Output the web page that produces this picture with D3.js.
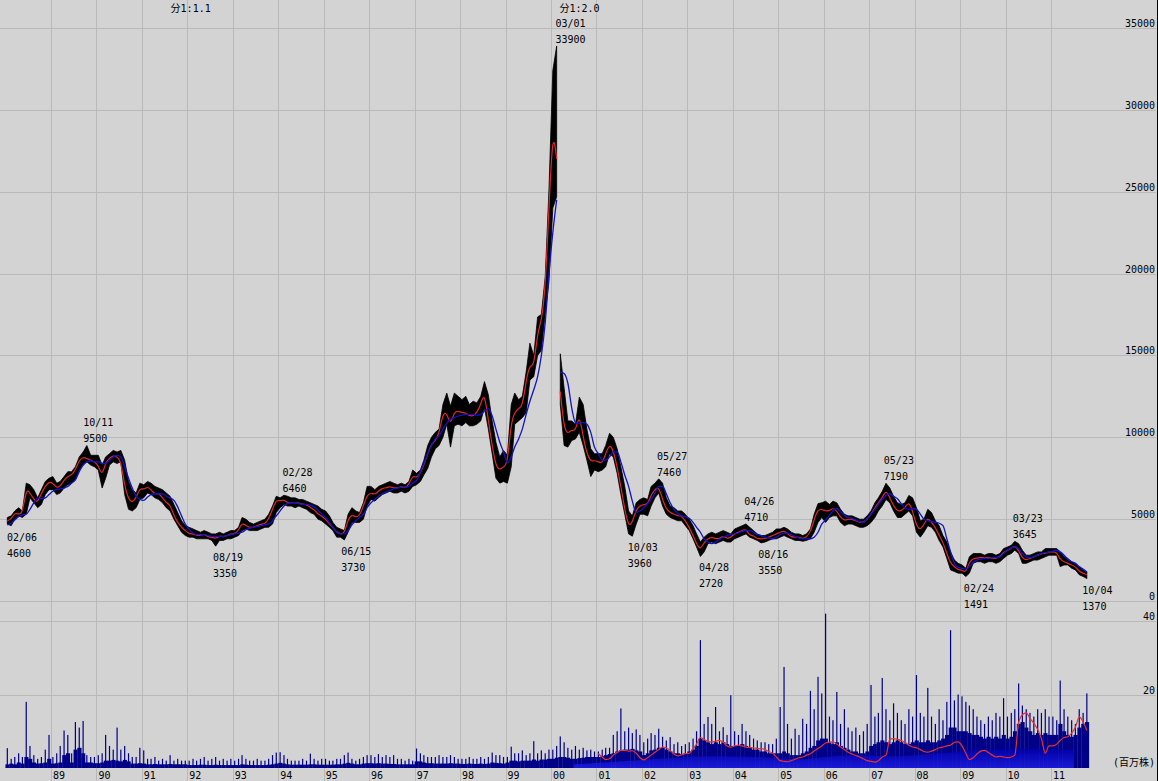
<!DOCTYPE html>
<html>
<head>
<meta charset="utf-8">
<script src="https://cdn.jsdelivr.net/npm/d3@7"></script>
<style>
html, body { margin: 0; padding: 0; background: #d3d3d3; }
svg { display: block; }
</style>
</head>
<body>
<svg id="chart"></svg>
<script>
// monthly data, first month = Jan 1988
const startYear = 1988;

const priceHigh = [
  5100,5200,5500,5700,5500,7200,7100,6800,6300,6800,7300,7500,          // 88
  7600,7200,7300,7600,7900,7900,8200,8800,9100,9500,8900,8900,          // 89
  8900,8300,8800,9000,9200,9100,9200,8600,7300,6800,6600,7200,          // 90
  7100,7300,7200,7000,6900,6800,6600,6400,5900,5400,4900,4600,          // 91
  4500,4400,4300,4200,4300,4200,4100,4100,4200,4100,4200,4300,          // 92
  4300,4500,5100,5000,4800,4700,4800,4900,5000,5300,5800,6400,          // 93
  6300,6460,6400,6300,6300,6200,6200,6100,6000,5900,5800,5600,          // 94
  5500,5200,4800,4500,4400,4300,5300,5700,5500,5400,6000,7000,          // 95
  7000,6800,7000,7100,7200,7300,7200,7100,7200,7100,7300,8000,          // 96
  7800,8000,8600,9500,10000,10300,10500,12000,12700,11900,12700,12500,  // 97
  12300,12500,12000,12200,12100,12500,13400,12600,11000,9700,8800,9200, // 98
  8900,12000,12700,12300,12500,14000,15750,15000,17350,17500,19800,25100, // 99
  32400,33900,15100,13000,11000,11000,10800,12450,12000,10500,9300,9000,  // 00
  9000,9000,9500,10250,10000,9300,8200,7000,5500,5200,6000,6200,        // 01
  6300,6200,7000,7200,7460,7200,6300,5800,5700,5500,5500,5300,          // 02
  5000,4600,4100,3600,3900,4100,4200,4100,4200,4300,4200,4100,          // 03
  4400,4500,4600,4710,4500,4300,4100,4000,4000,4100,4200,4400,          // 04
  4400,4500,4400,4200,4100,4100,4000,4100,4400,5300,5950,6000,          // 05
  6100,5900,6100,6000,5600,5300,5200,5200,5100,5000,5000,5200,          // 06
  5500,6000,6300,6700,7190,6900,6400,6000,5900,6000,6450,6300,          // 07
  5700,4900,5000,5600,5400,4900,4600,4000,3600,3000,2500,2300,          // 08
  2200,2000,2700,2900,2900,2900,2800,2900,2900,2800,2900,3200,          // 09
  3300,3400,3645,3500,3100,2800,2800,2900,3000,3000,3200,3200,          // 10
  3200,3200,3000,2700,2600,2400,2300,2100,1900,1800                     // 11
];

const priceLow = [
  4700,4600,5000,5200,5100,5300,6300,6000,5700,5900,6500,6800,
  6800,6500,6600,6900,7100,7200,7400,8000,8300,8500,8300,8200,
  8000,6900,7500,8300,8500,8400,8500,6500,5600,5500,5700,6200,
  6300,6600,6500,6300,6200,6000,5700,5500,5000,4600,4200,4000,
  3900,3900,3800,3800,3800,3800,3700,3350,3700,3700,3800,3800,
  3900,4000,4300,4400,4300,4300,4300,4400,4500,4500,4700,5400,
  5700,5900,5800,5800,5700,5800,5700,5600,5400,5300,5000,4900,
  4700,4500,4300,3900,3900,3730,4200,4800,4800,4800,5000,5800,
  6200,6100,6300,6500,6600,6700,6600,6600,6700,6600,6700,7000,
  7100,7300,7700,8100,8800,9300,9500,10000,10800,9400,10700,10800,
  10700,10900,10700,10700,10800,11000,11800,10500,9000,7500,7200,7300,
  7200,8200,10800,11000,11200,11500,13500,13700,15000,15300,17500,19500,
  24000,24700,12000,9500,9400,9800,9900,10300,9500,8600,7600,8000,
  7900,8000,8200,9000,8800,7800,6500,5300,4100,3960,4700,5300,
  5300,5200,5800,6300,6600,5800,5300,5100,5000,4900,4900,4600,
  4300,3800,3300,2720,3000,3500,3600,3500,3600,3700,3600,3600,
  3800,3900,4000,4100,3900,3800,3700,3550,3600,3700,3800,3800,
  3900,4000,3900,3800,3700,3700,3650,3700,3800,4200,4800,5100,
  4800,5100,5200,5200,4800,4600,4700,4700,4600,4500,4500,4600,
  4800,5100,5500,5800,6200,6000,5500,5100,5100,5300,5500,5200,
  4200,3900,4200,4600,4500,4200,3700,3300,2600,1900,1800,1700,
  1700,1491,1700,2300,2400,2400,2300,2400,2400,2300,2400,2600,
  2800,2900,3100,2900,2300,2300,2400,2500,2500,2600,2700,2800,
  2800,2800,2100,2200,2200,2000,1900,1600,1500,1370
];

const priceClose = [
  4900,5000,5400,5300,5300,6900,6600,6200,6000,6600,7000,7300,
  7200,6900,7000,7400,7600,7700,8000,8600,8800,8700,8600,8500,
  8300,7600,8500,8700,8900,8800,8600,7000,6200,6000,6300,6900,
  6800,7000,6800,6500,6600,6300,6000,5900,5200,4800,4500,4300,
  4100,4100,4000,4000,4100,3900,3900,3800,4000,3900,4000,4100,
  4100,4300,4800,4600,4500,4500,4600,4700,4700,5000,5600,6200,
  6100,6200,6000,6000,6000,6000,5900,5900,5700,5600,5300,5200,
  5000,4700,4500,4200,4100,4100,5000,5300,5100,5200,5800,6500,
  6600,6500,6700,6900,6900,7000,6900,6900,7000,6900,7100,7700,
  7500,7800,8300,9000,9600,9800,10200,11500,11500,10700,11600,11600,
  11500,11500,11300,11300,11500,12000,12800,11000,9500,8200,8000,8200,
  8300,11000,11500,11800,11800,13500,14500,14200,16500,17000,19000,24000,
  29000,27000,12800,10500,10200,10500,10300,11500,10000,9000,8500,8600,
  8500,8400,9000,9600,9200,8200,7000,5600,4500,4800,5600,5800,
  5900,5900,6500,6800,7000,6200,5600,5400,5300,5200,5200,4900,
  4500,4000,3500,3100,3600,3800,3900,3800,3800,4000,3800,3900,
  4100,4200,4300,4400,4000,4000,3800,3800,3800,3900,4000,4100,
  4200,4300,4100,3900,3900,3900,3800,3900,4200,5000,5600,5600,
  5500,5500,5700,5500,5100,4900,5000,5000,4900,4800,4800,5000,
  5300,5700,6000,6300,6800,6300,5800,5500,5500,5700,6100,5500,
  4600,4300,4700,5100,4800,4500,4000,3600,2900,2300,2100,1900,
  1900,1700,2400,2600,2600,2700,2600,2700,2600,2600,2700,3000,
  3100,3200,3400,3100,2600,2500,2600,2700,2800,2900,2900,3000,
  3000,3000,2500,2400,2300,2200,2100,1800,1700,1600
];

// long moving average (blue)
const maLong = [
  4650,4750,4950,5150,5250,5300,5600,6000,6300,6250,6300,6500,
  6700,6800,6850,6900,7000,7200,7400,7900,8300,8500,8550,8500,
  8500,8400,8400,8600,8800,8900,8800,8200,7500,6900,6400,6200,
  6150,6350,6500,6550,6550,6550,6400,6300,6150,5750,5200,4700,
  4400,4150,4050,4050,4050,4000,3950,3950,3950,3950,4000,4050,
  4100,4150,4200,4350,4450,4500,4550,4600,4650,4700,4900,5200,
  5500,5800,5950,6000,6000,5950,5900,5900,5850,5750,5550,5300,
  5100,4800,4500,4200,4100,4100,4300,4650,4900,5100,5300,5700,
  6000,6200,6400,6550,6650,6750,6850,6900,6950,6950,7000,7200,
  7350,7900,8400,9000,9500,9900,10100,10500,10850,11100,11200,11300,
  11350,11400,11400,11400,11350,11400,11600,11750,11300,10500,9700,9100,
  8450,8800,9400,9900,10500,11400,12200,12900,13700,15000,17000,20000,
  22500,24500,14000,13900,13300,11800,10900,10850,10900,10800,10300,9400,
  9000,8600,8600,8800,9100,9100,8500,7700,7000,6100,5400,5500,
  5700,5950,6200,6600,7000,7000,6550,6000,5600,5350,5200,5150,
  5050,4800,4500,4200,3800,3600,3500,3600,3750,3900,4000,4050,
  4100,4150,4250,4300,4300,4200,4050,4000,3900,3850,3800,3900,
  4050,4150,4150,4050,3950,3850,3800,3800,3800,3900,4200,4700,
  4950,5250,5500,5650,5450,5250,5100,5050,4950,4850,4800,5050,
  5300,5600,5900,6200,6450,6550,6400,6250,5950,5700,5600,5650,
  5600,5300,5000,4900,4850,4800,4750,4600,3800,3000,2300,2050,
  2000,1950,2100,2350,2500,2550,2600,2600,2650,2650,2700,2900,
  3100,3250,3300,3200,2900,2700,2650,2700,2800,2900,2950,3000,
  3050,3100,3000,2800,2550,2400,2300,2100,1950,1750
];

// split: 1:2.0 from Mar 2000 (price series breaks there)
const splitMonth = new Date(2000, 2, 1);

// volume, millions of shares
const volBase = [
  1.0,1.2,1.0,1.5,1.2,3.0,2.5,1.5,1.2,1.3,1.5,2.5,
  1.2,1.3,1.5,3.5,4.0,1.5,5.0,5.5,4.0,1.5,1.5,1.3,
  1.3,1.5,2.0,2.0,2.2,2.0,1.8,2.2,1.8,1.2,1.2,1.3,
  1.2,1.0,1.0,1.1,1.0,1.0,1.0,1.1,1.0,1.0,1.0,1.0,
  0.8,0.8,0.8,0.9,0.9,0.8,0.8,0.9,0.8,0.8,0.8,0.8,
  0.8,0.8,1.0,0.9,0.8,0.8,0.8,0.8,0.8,0.9,1.0,1.2,
  1.4,1.2,1.0,0.9,0.9,0.9,0.9,0.9,1.0,1.0,0.9,0.9,
  0.9,0.9,0.9,1.0,1.0,1.2,1.4,1.2,1.0,1.0,1.2,1.3,
  1.3,1.2,1.3,1.2,1.2,1.1,1.1,1.0,1.0,1.0,1.0,1.0,
  1.8,1.8,1.5,1.3,1.3,1.2,1.2,1.2,1.2,1.3,1.2,1.2,
  1.1,1.1,1.2,1.1,1.1,1.2,1.1,1.2,1.5,1.4,1.3,1.2,
  1.5,2.0,2.0,1.8,2.0,2.0,2.0,2.3,2.0,2.3,2.3,2.5,
  2.5,2.8,3.0,3.0,2.8,2.5,2.5,2.7,2.8,3.0,3.0,3.0,
  3.0,3.2,3.5,3.8,4.0,4.5,4.8,5.0,5.0,5.2,4.8,4.5,
  3.5,4.0,4.8,5.0,5.5,5.5,5.0,4.5,4.0,4.0,3.8,4.0,
  4.5,5.0,6.0,8.0,7.5,7.0,6.5,7.0,6.5,7.0,6.5,6.0,
  6.0,6.0,6.5,6.0,5.5,5.0,5.0,4.5,4.5,4.0,4.0,4.0,
  4.0,4.5,4.0,3.5,3.5,3.5,4.0,4.5,5.5,6.0,7.5,8.0,
  8.0,7.0,6.5,7.0,6.0,5.5,5.0,4.5,4.5,4.0,4.0,4.5,
  6.0,6.5,7.0,7.5,7.0,6.5,7.0,7.5,7.0,6.5,6.5,7.0,
  7.5,7.0,7.0,7.5,7.0,7.0,7.5,8.0,9.0,11.0,11.0,10.0,
  10.0,10.0,9.5,9.0,9.0,8.5,8.0,8.5,8.0,8.5,8.0,9.0,
  8.0,8.5,10.0,12.0,12.5,11.0,10.0,9.0,9.5,9.0,9.5,9.0,
  9.0,9.0,12.0,10.0,9.0,8.5,9.0,11.0,12.0,12.5
];

const volPeak = [
  5.4,2.5,3.0,4.0,3.0,18.0,6.0,3.5,2.5,3.0,5.0,9.0,
  3.0,4.0,6.0,10.2,9.0,4.0,12.5,11.0,12.8,3.5,3.0,3.0,
  3.5,4.0,9.0,6.0,5.0,11.0,5.0,6.0,4.0,3.0,3.0,5.5,
  4.8,2.5,2.5,3.0,2.0,2.5,2.0,3.5,2.0,2.5,2.0,2.0,
  2.0,2.5,2.0,2.5,3.0,2.0,2.5,3.0,2.0,2.5,2.0,2.5,
  2.0,2.5,3.5,2.5,2.0,2.0,2.5,2.0,2.0,2.5,3.5,4.2,
  4.3,3.5,2.5,2.0,2.0,2.0,2.5,2.0,3.9,2.5,2.0,2.5,
  2.5,2.0,2.0,2.5,2.5,3.5,4.2,2.5,2.0,2.5,3.0,3.5,
  3.5,3.0,3.8,3.0,3.5,3.0,3.5,2.5,2.5,2.0,2.5,2.0,
  5.3,4.0,3.5,3.0,3.0,3.0,3.5,3.0,3.0,3.5,3.0,2.5,
  2.5,2.5,3.0,2.5,2.5,3.0,2.5,3.0,4.2,3.5,3.5,3.0,
  3.0,5.8,4.0,4.0,4.8,3.5,4.0,7.3,4.0,4.8,4.0,5.0,
  5.0,6.0,8.6,7.0,5.5,5.0,6.0,5.0,5.5,4.8,5.0,4.5,
  4.5,5.0,5.5,5.5,9.0,10.0,16.2,10.0,11.0,9.5,10.5,9.0,
  7.0,8.0,9.5,9.0,10.7,8.5,7.5,8.4,6.5,7.0,6.0,6.5,
  7.0,8.0,10.0,34.8,12.0,13.9,12.0,16.6,10.0,11.1,9.0,19.8,
  10.0,9.0,12.0,10.0,9.0,8.0,7.5,7.0,7.0,6.5,6.5,8.0,
  16.6,27.5,12.0,8.0,10.7,9.0,13.4,12.0,21.0,16.0,24.8,20.3,
  42.0,14.0,13.0,20.7,12.0,16.0,11.0,10.0,11.0,9.0,10.0,12.0,
  22.6,14.0,15.0,24.5,16.0,13.0,17.6,15.0,13.0,12.0,16.0,14.0,
  25.3,15.0,14.0,21.8,14.0,12.0,16.0,13.0,18.0,37.5,18.4,20.0,
  19.5,18.0,17.0,16.0,14.0,13.0,12.0,14.0,13.0,15.0,14.0,19.0,
  14.0,15.0,16.0,23.0,17.0,16.0,15.0,14.0,16.0,15.0,16.0,14.0,
  14.0,13.0,23.8,16.0,14.0,13.0,12.0,16.0,15.0,20.3
];

// volume moving average (red), monthly from Jan 2001
const volMAStart = new Date(2001, 0, 1);
const volMA = [
  3.9,3.0,2.3,2.5,3.5,4.2,4.8,4.8,4.6,4.7,4.0,2.8,
  2.2,2.8,3.5,4.3,5.0,5.7,5.5,4.8,3.8,3.3,3.6,3.9,
  4.0,5.2,6.5,8.3,7.8,7.2,7.1,7.3,7.5,7.0,6.0,5.7,
  6.0,6.2,6.0,5.7,5.6,5.5,5.3,5.3,5.0,4.5,4.0,3.0,
  2.0,1.8,1.7,2.0,2.4,2.8,3.0,3.5,3.9,4.6,5.3,6.0,
  6.8,7.0,7.1,6.5,5.7,5.0,4.3,3.8,3.4,3.0,2.5,2.0,
  1.8,1.6,2.0,3.0,3.5,7.8,8.0,7.8,7.5,7.0,6.2,5.7,
  5.5,5.0,4.5,4.3,4.6,5.0,5.5,5.7,6.0,6.2,7.0,7.1,
  6.0,4.0,2.3,2.8,3.8,4.6,4.8,4.2,3.5,3.0,3.2,3.0,
  2.8,3.0,3.5,12.5,14.5,15.0,13.5,12.2,10.5,8.0,4.0,6.0,
  6.0,6.5,7.5,8.3,8.5,9.5,11.1,13.9,12.5,10.2
];

// brighter lower band of the volume mass, one value per year (mid-year)
const volLowYears = [2000,2001,2002,2003,2004,2005,2006,2007,2008,2009,2010,2011];
const volLow      = [ 1.0, 1.8, 2.6, 3.2, 3.0, 2.4, 3.4, 3.2, 4.0, 5.0, 5.2, 5.0];

const priceTicks = [0,5000,10000,15000,20000,25000,30000,35000];
const volTicks = [20,40];
const yearTicks = [1989,1990,1991,1992,1993,1994,1995,1996,1997,1998,1999,2000,
                   2001,2002,2003,2004,2005,2006,2007,2008,2009,2010,2011];

const marks = [
  {label:"02/06", date:new Date(1988,1,6),  value:4600,  kind:"low"},
  {label:"10/11", date:new Date(1989,9,11), value:9500,  kind:"high"},
  {label:"08/19", date:new Date(1992,7,19), value:3350,  kind:"low"},
  {label:"02/28", date:new Date(1994,1,28), value:6460,  kind:"high"},
  {label:"06/15", date:new Date(1995,5,15), value:3730,  kind:"low"},
  {label:"03/01", date:new Date(2000,2,1),  value:33900, kind:"high"},
  {label:"10/03", date:new Date(2001,9,3),  value:3960,  kind:"low"},
  {label:"05/27", date:new Date(2002,4,27), value:7460,  kind:"high"},
  {label:"04/28", date:new Date(2003,3,28), value:2720,  kind:"low"},
  {label:"04/26", date:new Date(2004,3,26), value:4710,  kind:"high"},
  {label:"08/16", date:new Date(2004,7,16), value:3550,  kind:"low"},
  {label:"05/23", date:new Date(2007,4,23), value:7190,  kind:"high"},
  {label:"02/24", date:new Date(2009,1,24), value:1491,  kind:"low"},
  {label:"03/23", date:new Date(2010,2,23), value:3645,  kind:"high"},
  {label:"10/04", date:new Date(2011,9,4),  value:1370,  kind:"low"}
];

const splits = [
  {label:"分1:1.1", date:new Date(1991,7,20)},
  {label:"分1:2.0", date:new Date(2000,2,10)}
];

const volUnit = "(百万株)";

// ---- drawing ----
const W = 1158, H = 781;
const font = "'DejaVu Sans Mono','Noto Sans CJK JP',monospace";

const svg = d3.select("#chart")
  .attr("width", W).attr("height", H)
  .attr("font-family", font)
  .attr("font-size", 10);

svg.append("rect").attr("width", W).attr("height", H).attr("fill", "#d3d3d3");

const x = d3.scaleTime()
  .domain([new Date(1989,0,1), new Date(2011,0,1)])
  .range([51, 1051]);
const yP = d3.scaleLinear().domain([0, 35000]).range([601, 28]);
const yV = d3.scaleLinear().domain([0, 40]).range([768, 621]);

const n = priceHigh.length;
const idx = d3.range(n);
const mStart = i => new Date(startYear, i, 1);
const mEnd = i => new Date(startYear, i + 1, 1);
const mMid = i => new Date(startYear, i, 16);
const splitIdx = idx.find(i => +mStart(i) === +splitMonth);

// grid
const grid = svg.append("g").attr("stroke", "#b9b9b9").attr("stroke-width", 1);
grid.selectAll("line.v").data(yearTicks).join("line")
  .attr("x1", d => Math.round(x(new Date(d,0,1))) + 0.5)
  .attr("x2", d => Math.round(x(new Date(d,0,1))) + 0.5)
  .attr("y1", 0).attr("y2", H);
grid.selectAll("line.p").data(priceTicks).join("line")
  .attr("x1", 0).attr("x2", 1156)
  .attr("y1", d => Math.round(yP(d)) + 0.5)
  .attr("y2", d => Math.round(yP(d)) + 0.5);
grid.selectAll("line.q").data(volTicks).join("line")
  .attr("x1", 0).attr("x2", 1156)
  .attr("y1", d => Math.round(yV(d)) + 0.5)
  .attr("y2", d => Math.round(yV(d)) + 0.5);

// volume
const vol = svg.append("g");
vol.selectAll("rect.base").data(idx).join("rect")
  .attr("x", i => x(mStart(i)))
  .attr("width", i => x(mEnd(i)) - x(mStart(i)) + 0.3)
  .attr("y", i => yV(volBase[i]))
  .attr("height", i => yV(0) - yV(volBase[i]))
  .attr("fill", "#000088");
vol.selectAll("rect.peak").data(idx).join("rect")
  .attr("x", i => x(mMid(i)) - 0.6)
  .attr("width", 1.2)
  .attr("y", i => yV(volPeak[i]))
  .attr("height", i => yV(0) - yV(volPeak[i]))
  .attr("fill", "#000088");

const defs = svg.append("defs");
defs.append("clipPath").attr("id", "volclip").append("rect")
  .attr("x", x(new Date(2000,6,1))).attr("y", 600)
  .attr("width", x(mEnd(n - 1)) - x(new Date(2000,6,1)))
  .attr("height", 170);
const grad = defs.append("linearGradient").attr("id", "lowgrad")
  .attr("x1", 0).attr("y1", 0).attr("x2", 0).attr("y2", 1);
grad.append("stop").attr("offset", "0%").attr("stop-color", "#0000b0");
grad.append("stop").attr("offset", "100%").attr("stop-color", "#2222f0");

vol.append("path")
  .datum(volLowYears.map((yr, k) => [new Date(yr, 6, 1), volLow[k]]))
  .attr("clip-path", "url(#volclip)")
  .attr("fill", "url(#lowgrad)")
  .attr("opacity", 0.75)
  .attr("d", d3.area().curve(d3.curveMonotoneX)
    .x(d => x(d[0])).y0(yV(0)).y1(d => yV(d[1])));

vol.append("path")
  .datum(volMA.map((v, k) => [new Date(volMAStart.getFullYear(), k, 16), v]))
  .attr("fill", "none").attr("stroke", "#e83030").attr("stroke-width", 1.2)
  .attr("d", d3.line().curve(d3.curveMonotoneX).x(d => x(d[0])).y(d => yV(d[1])));

// price range band (one high/low per month), broken at the split
const segs = [idx.slice(0, splitIdx), idx.slice(splitIdx)];
const band = d3.area()
  .x(i => x(mMid(i)))
  .y0(i => yP(priceLow[i]))
  .y1(i => yP(priceHigh[i]));
svg.append("g").selectAll("path").data(segs).join("path")
  .attr("fill", "#000").attr("stroke", "#000").attr("stroke-width", 0.8)
  .attr("stroke-linejoin", "miter")
  .attr("d", band);

const closeLine = d3.line().curve(d3.curveBasis).x(i => x(mMid(i))).y(i => yP(priceClose[i]));
const maLine = d3.line().curve(d3.curveMonotoneX).x(i => x(mMid(i))).y(i => yP(maLong[i]));
svg.append("g").selectAll("path").data(segs).join("path")
  .attr("fill", "none").attr("stroke", "#e02828").attr("stroke-width", 1.2)
  .attr("d", closeLine);
svg.append("g").selectAll("path").data(segs).join("path")
  .attr("fill", "none").attr("stroke", "#1212cc").attr("stroke-width", 1.3)
  .attr("d", maLine);

// high / low notes
const notes = svg.append("g").attr("fill", "#000");
marks.forEach(m => {
  const tx = Math.max(2, x(m.date) - 3);
  const y0 = yP(m.value);
  const yDate = m.kind === "high" ? y0 - 19 : y0 + 15;
  const yVal = m.kind === "high" ? y0 - 3 : y0 + 31;
  notes.append("text").attr("x", tx).attr("y", yDate).text(m.label);
  notes.append("text").attr("x", tx).attr("y", yVal).text(m.value);
});

svg.append("g").selectAll("text").data(splits).join("text")
  .attr("x", d => x(d.date)).attr("y", 12)
  .text(d => d.label);

// axis labels
svg.append("g").attr("text-anchor", "end").selectAll("text").data(priceTicks).join("text")
  .attr("x", 1155).attr("y", d => yP(d) - 1)
  .text(d => d);
svg.append("g").attr("text-anchor", "end").selectAll("text").data(volTicks).join("text")
  .attr("x", 1155).attr("y", d => yV(d) - 1)
  .text(d => d);
svg.append("text").attr("x", 1155).attr("y", 766).attr("text-anchor", "end").text(volUnit);

const fmtYear = d3.timeFormat("%y");
svg.append("g").selectAll("text").data(yearTicks).join("text")
  .attr("x", d => x(new Date(d,0,1)) + 2).attr("y", 779)
  .text(d => fmtYear(new Date(d,0,1)));

// right frame
svg.append("line").attr("x1", 1157.5).attr("x2", 1157.5).attr("y1", 0).attr("y2", H)
  .attr("stroke", "#000").attr("stroke-width", 1);
</script>
</body>
</html>
